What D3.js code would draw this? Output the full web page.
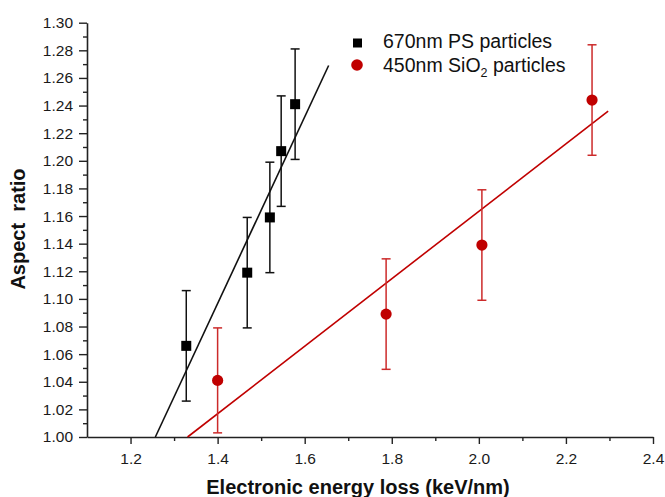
<!DOCTYPE html>
<html>
<head>
<meta charset="utf-8">
<script src="https://cdn.jsdelivr.net/npm/d3@7/dist/d3.min.js"></script>
<style>
  html, body { margin: 0; padding: 0; background: #fff; }
  svg { display: block; font-family: "Liberation Sans", Arial, sans-serif; }
</style>
</head>
<body>
<svg id="chart" width="665" height="497"></svg>
<script>
// ---- data ----
const psX   = [1.328, 1.468, 1.520, 1.546, 1.578];
const psY   = [1.066, 1.119, 1.159, 1.207, 1.241];
const psErr = [0.040, 0.040, 0.040, 0.040, 0.040];

const sioX   = [1.400, 1.787, 2.007, 2.260];
const sioY   = [1.041, 1.089, 1.139, 1.244];
const sioErr = [0.038, 0.040, 0.040, 0.040];

// linear fits (end points of drawn lines)
const psFitX  = [1.257, 1.655];
const psFitY  = [1.000, 1.269];
const sioFitX = [1.331, 2.297];
const sioFitY = [1.000, 1.236];

const xTicks = [1.2, 1.4, 1.6, 1.8, 2.0, 2.2, 2.4];
const xMinorTicks = [1.3, 1.5, 1.7, 1.9, 2.1, 2.3];
const yTicks = [1.00,1.02,1.04,1.06,1.08,1.10,1.12,1.14,1.16,1.18,1.20,1.22,1.24,1.26,1.28,1.30];
const yMinorTicks = [1.01,1.03,1.05,1.07,1.09,1.11,1.13,1.15,1.17,1.19,1.21,1.23,1.25,1.27,1.29];

const seriesNames = ["670nm PS particles", "450nm SiO2 particles"];
const xTitle = "Electronic energy loss (keV/nm)";
const yTitle = "Aspect\u00A0 ratio";

// ---- layout ----
const RED = "#c00000";
const RED_ERR = "#cc2a2a";
const svg = d3.select("#chart");

const x = d3.scaleLinear().domain([1.1, 2.4]).range([87, 653]);
const y = d3.scaleLinear().domain([1.0, 1.30]).range([437, 22.7]);

// x axis
const gx = svg.append("g").attr("transform", `translate(0,${y(1.0)})`);
gx.call(d3.axisBottom(x).tickValues(xMinorTicks).tickSize(4).tickFormat(""));
gx.call(g => g.select(".domain").remove());
const gx2 = svg.append("g").attr("transform", `translate(0,${y(1.0)})`);
gx2.call(d3.axisBottom(x).tickValues(xTicks).tickSize(7).tickSizeOuter(0).tickPadding(9)
  .tickFormat(d3.format(".1f")));
gx2.selectAll("text").attr("font-size", "15.5px").attr("fill", "#1a1a1a")
  .attr("font-family", "Liberation Sans, Arial, sans-serif");
gx2.select(".domain").attr("stroke", "#222").attr("stroke-width", 1.6);

// y axis
const gy = svg.append("g").attr("transform", `translate(${x(1.1)},0)`);
gy.call(d3.axisLeft(y).tickValues(yMinorTicks).tickSize(4).tickFormat(""));
gy.call(g => g.select(".domain").remove());
const gy2 = svg.append("g").attr("transform", `translate(${x(1.1)},0)`);
gy2.call(d3.axisLeft(y).tickValues(yTicks).tickSize(8).tickSizeOuter(0).tickPadding(6)
  .tickFormat(d3.format(".2f")));
gy2.selectAll("text").attr("font-size", "15.5px").attr("fill", "#1a1a1a")
  .attr("font-family", "Liberation Sans, Arial, sans-serif");
gy2.select(".domain").attr("stroke", "#222").attr("stroke-width", 1.6);
svg.selectAll(".tick line").attr("stroke", "#222").attr("stroke-width", 1.4);

// axis titles
svg.append("text")
  .attr("x", 358).attr("y", 494)
  .attr("text-anchor", "middle")
  .attr("font-size", "20px").attr("font-weight", "bold").attr("fill", "#111")
  .text(xTitle);
svg.append("text")
  .attr("transform", "translate(25,229) rotate(-90)")
  .attr("text-anchor", "middle")
  .attr("font-size", "20px").attr("font-weight", "bold").attr("fill", "#111")
  .style("white-space", "pre")
  .text(yTitle);

// fit lines
const line = d3.line().x(d => x(d[0])).y(d => y(d[1]));
svg.append("path").datum(d3.zip(psFitX, psFitY))
  .attr("d", line).attr("fill", "none").attr("stroke", "#111").attr("stroke-width", 1.6);
svg.append("path").datum(d3.zip(sioFitX, sioFitY))
  .attr("d", line).attr("fill", "none").attr("stroke", RED).attr("stroke-width", 1.6);

// error bars
function errorBars(xs, ys, es, color) {
  const g = svg.append("g").attr("stroke", color).attr("stroke-width", 1.5);
  const data = xs.map((v, i) => ({ x: v, y: ys[i], e: es[i] }));
  g.selectAll("line.v").data(data).join("line")
    .attr("x1", d => x(d.x)).attr("x2", d => x(d.x))
    .attr("y1", d => y(d.y - d.e)).attr("y2", d => y(d.y + d.e));
  g.selectAll("line.t").data(data).join("line")
    .attr("x1", d => x(d.x) - 4.5).attr("x2", d => x(d.x) + 4.5)
    .attr("y1", d => y(d.y + d.e)).attr("y2", d => y(d.y + d.e));
  g.selectAll("line.b").data(data).join("line")
    .attr("x1", d => x(d.x) - 4.5).attr("x2", d => x(d.x) + 4.5)
    .attr("y1", d => y(d.y - d.e)).attr("y2", d => y(d.y - d.e));
}
errorBars(psX, psY, psErr, "#111");
errorBars(sioX, sioY, sioErr, RED_ERR);

// markers
const sq = 10;
svg.append("g").selectAll("rect").data(d3.zip(psX, psY)).join("rect")
  .attr("x", d => x(d[0]) - sq / 2).attr("y", d => y(d[1]) - sq / 2)
  .attr("width", sq).attr("height", sq).attr("fill", "#000");
svg.append("g").selectAll("circle").data(d3.zip(sioX, sioY)).join("circle")
  .attr("cx", d => x(d[0])).attr("cy", d => y(d[1])).attr("r", 5.6).attr("fill", RED);

// legend
const lg = svg.append("g");
lg.append("rect").attr("x", 353).attr("y", 38.5).attr("width", 9).attr("height", 9).attr("fill", "#000");
lg.append("circle").attr("cx", 357).attr("cy", 65).attr("r", 5.8).attr("fill", RED);
lg.append("text").attr("x", 383).attr("y", 48).attr("font-size", "19.5px").attr("fill", "#111")
  .text(seriesNames[0]);
const t2 = lg.append("text").attr("x", 383).attr("y", 72).attr("font-size", "19.5px").attr("fill", "#111");
t2.append("tspan").text("450nm SiO");
t2.append("tspan").attr("font-size", "12.5px").attr("dy", 5).text("2");
t2.append("tspan").attr("dy", -5).text(" particles");
</script>
</body>
</html>
